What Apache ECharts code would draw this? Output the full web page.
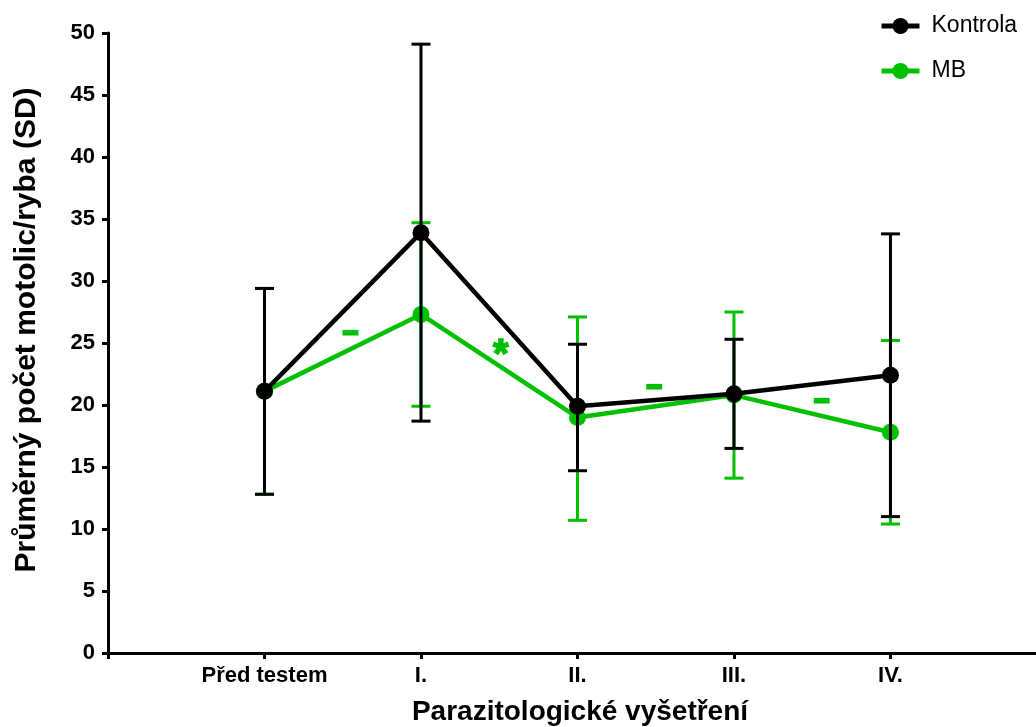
<!DOCTYPE html>
<html>
<head>
<meta charset="utf-8">
<script src="https://cdn.jsdelivr.net/npm/echarts@6/dist/echarts.min.js"></script>
<style>html,body{margin:0;padding:0;background:#fff}#c{width:1036px;height:727px}</style>
</head>
<body>
<div id="c"></div>
<script>
const categories = ['Před testem', 'I.', 'II.', 'III.', 'IV.'];
const yTicks = [0, 5, 10, 15, 20, 25, 30, 35, 40, 45, 50];
const kontrolaMean = [21.1, 33.9, 19.9, 20.9, 22.4];
const kontrolaLow  = [12.8, 18.7, 14.7, 16.5, 11.0];
const kontrolaHigh = [29.4, 49.1, 24.9, 25.3, 33.8];
const mbMean = [21.1, 27.3, 19.0, 20.8, 17.8];
const mbLow  = [12.8, 19.9, 10.7, 14.1, 10.4];
const mbHigh = [29.4, 34.7, 27.1, 27.5, 25.2];
// significance marks between consecutive examinations (x in category units, 1 = first category)
const annotX = [1.55, 2.51, 3.49, 4.56];
const annotY = [25.8, 24.7, 21.5, 20.3];
const annotText = ['–', '*', '–', '–'];

const BLACK = '#000000';
const GREEN = '#00C000';
const FONT = 'Liberation Sans, Arial, sans-serif';

function pts(arr) { return arr.map((v, i) => [i + 1, v]); }
function errData(low, high) { return low.map((l, i) => [i + 1, l, high[i]]); }

function errSeries(name, low, high, color, z) {
  return {
    type: 'custom', name: name, z: z, silent: true,
    data: errData(low, high),
    encode: { x: 0, y: [1, 2] },
    renderItem: function (params, api) {
      const x = api.value(0);
      const lo = api.coord([x, api.value(1)]);
      const hi = api.coord([x, api.value(2)]);
      const hw = 9.5;
      const st = { stroke: color, lineWidth: 3 };
      return {
        type: 'group',
        children: [
          { type: 'line', shape: { x1: lo[0], y1: lo[1], x2: hi[0], y2: hi[1] }, style: st },
          { type: 'line', shape: { x1: lo[0] - hw, y1: lo[1], x2: lo[0] + hw, y2: lo[1] }, style: st },
          { type: 'line', shape: { x1: hi[0] - hw, y1: hi[1], x2: hi[0] + hw, y2: hi[1] }, style: st }
        ]
      };
    }
  };
}

const chart = echarts.init(document.getElementById('c'), null, { renderer: 'canvas' });
chart.setOption({
  animation: false,
  backgroundColor: '#ffffff',
  textStyle: { fontFamily: FONT },
  grid: { left: 108, right: 0, top: 33, bottom: 74, containLabel: false, outerBoundsMode: 'none' },
  legend: {
    orient: 'vertical', left: 874, top: 8, itemGap: 19,
    itemWidth: 38, itemHeight: 20,
    lineStyle: { width: 5 },
    textStyle: { fontFamily: FONT, fontSize: 23, color: '#000', lineHeight: 26, padding: [0, 0, 0, 7] },
    data: ['Kontrola', 'MB']
  },
  xAxis: {
    type: 'value', min: 0, max: 5.93, interval: 1,
    splitLine: { show: false },
    axisLine: { show: true, lineStyle: { color: BLACK, width: 3 } },
    axisTick: { show: true, length: 6, lineStyle: { color: BLACK, width: 3 } },
    axisLabel: {
      margin: 12, color: BLACK, fontFamily: FONT, fontWeight: 'bold', fontSize: 22,
      showMinLabel: true, showMaxLabel: false,
      formatter: function (v) { const i = Math.round(v) - 1; return (Math.abs(v - Math.round(v)) < 1e-6 && categories[i]) ? categories[i] : ''; }
    },
    name: 'Parazitologické vyšetření', nameLocation: 'middle', nameGap: 45,
    nameTextStyle: { color: BLACK, fontFamily: FONT, fontWeight: 'bold', fontSize: 28, padding: [0, 0, 0, 16] }
  },
  yAxis: {
    type: 'value', min: yTicks[0], max: yTicks[yTicks.length - 1], interval: yTicks[1] - yTicks[0],
    splitLine: { show: false },
    axisLine: { show: true, lineStyle: { color: BLACK, width: 3 } },
    axisTick: { show: true, length: 6, lineStyle: { color: BLACK, width: 3 } },
    axisLabel: { margin: 13, color: BLACK, fontFamily: FONT, fontWeight: 'bold', fontSize: 22 },
    name: 'Průměrný počet motolic/ryba (SD)', nameLocation: 'middle', nameGap: 66,
    nameTextStyle: { color: BLACK, fontFamily: FONT, fontWeight: 'bold', fontSize: 30, padding: [0, 0, 0, 26] }
  },
  series: [
    errSeries('MB-err', mbLow, mbHigh, GREEN, 2),
    {
      name: 'MB', type: 'line', z: 3, data: pts(mbMean),
      symbol: 'circle', symbolSize: 17, showSymbol: true,
      lineStyle: { color: GREEN, width: 4.5 }, itemStyle: { color: GREEN }
    },
    errSeries('Kontrola-err', kontrolaLow, kontrolaHigh, BLACK, 4),
    {
      name: 'Kontrola', type: 'line', z: 5, data: pts(kontrolaMean),
      symbol: 'circle', symbolSize: 17, showSymbol: true,
      lineStyle: { color: BLACK, width: 4.5 }, itemStyle: { color: BLACK }
    },
    {
      type: 'custom', name: 'sig', z: 6, silent: true,
      data: annotX.map((x, i) => [x, annotY[i]]),
      encode: { x: 0, y: 1 },
      renderItem: function (params, api) {
        const p = api.coord([api.value(0), api.value(1)]);
        const t = annotText[params.dataIndex];
        const star = t === '*';
        return {
          type: 'text', x: p[0], y: p[1] + (star ? 9 : 0),
          style: {
            text: t, fill: GREEN, stroke: GREEN, lineWidth: star ? 1.5 : 3,
            font: (star ? 'bold 40px ' : 'bold 26px ') + FONT, align: 'center', verticalAlign: 'middle'
          }
        };
      }
    }
  ]
});
</script>
</body>
</html>
